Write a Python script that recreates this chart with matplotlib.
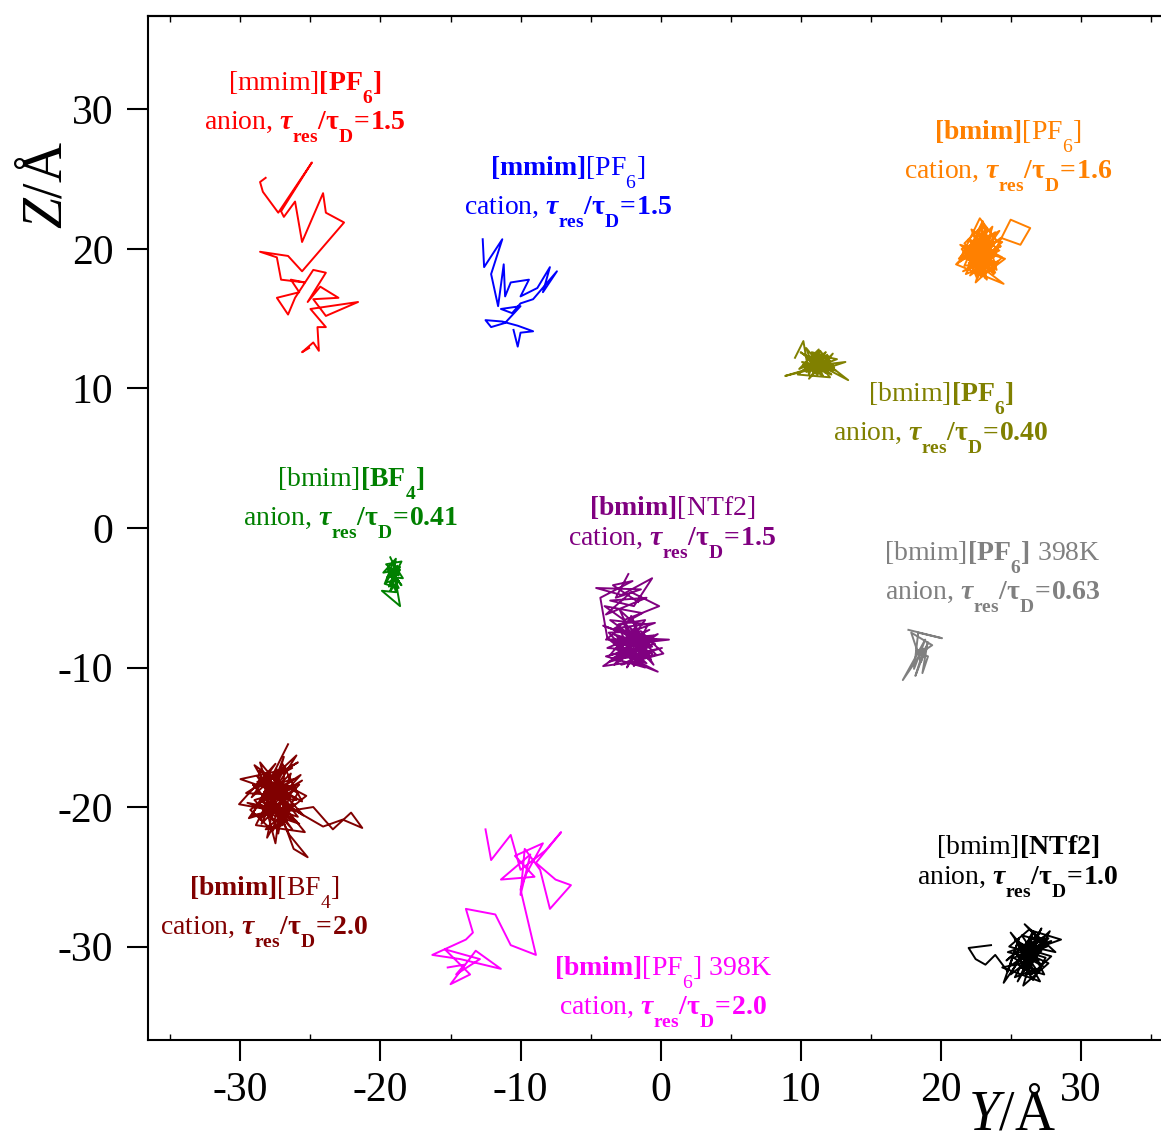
import numpy as np
import matplotlib
matplotlib.use("Agg")
import matplotlib.pyplot as plt

plt.rcParams['font.family'] = ['Liberation Serif', 'DejaVu Serif']
plt.rcParams['mathtext.fontset'] = 'custom'
plt.rcParams['mathtext.rm'] = 'Liberation Serif'
plt.rcParams['mathtext.it'] = 'Liberation Serif:italic'
plt.rcParams['mathtext.bf'] = 'Liberation Serif:bold'
plt.rcParams['mathtext.bfit'] = 'Liberation Serif:italic:bold'
plt.rcParams['axes.unicode_minus'] = False

# subscripts sit lower in the original figure
try:
    from matplotlib import _mathtext
    _mathtext.FontConstantsBase.sub1 = 1.0
    _mathtext.FontConstantsBase.sub2 = 1.1
except Exception:
    pass

# trajectories, (Y, Z) in Angstrom
red_path = [(-28.2, 25.1), (-28.6, 24.8), (-28.4, 24.1), (-27.3, 22.6), (-24.9, 26.2), (-27.1, 22.7),
            (-26.9, 22.3), (-26.1, 23.4), (-25.6, 20.5), (-24.1, 24.0), (-23.9, 22.6), (-22.6, 21.9),
            (-25.6, 18.4), (-26.6, 19.5), (-28.6, 19.8), (-27.4, 19.4), (-27.1, 17.8), (-25.4, 17.6),
            (-26.4, 17.8), (-25.8, 16.9), (-27.4, 16.5), (-26.6, 15.3), (-26.1, 16.5), (-24.8, 18.5),
            (-23.9, 18.3), (-25.2, 16.2), (-24.3, 17.3), (-23.0, 16.5), (-24.8, 16.4), (-23.9, 15.2),
            (-21.6, 16.2), (-25.0, 15.7), (-23.9, 14.4), (-24.5, 14.4), (-24.4, 12.7), (-24.8, 13.3),
            (-25.6, 12.6), (-25.1, 12.9)]

blue_path = [(-12.7, 20.7), (-12.6, 18.7), (-11.3, 20.7), (-12.1, 18.2), (-11.6, 15.9), (-11.2, 18.9),
             (-11.1, 16.6), (-10.7, 17.6), (-9.4, 17.8), (-10.0, 16.6), (-8.8, 17.2), (-7.9, 18.7),
             (-8.4, 16.9), (-7.4, 18.4), (-9.1, 16.4), (-10.0, 16.1), (-10.6, 15.4), (-11.4, 15.7),
             (-10.0, 15.9), (-11.1, 14.7), (-12.1, 14.4), (-12.5, 14.9), (-11.3, 14.8), (-10.2, 14.5),
             (-9.1, 14.1), (-10.0, 14.0), (-10.2, 13.0), (-10.5, 14.2)]

orange_path = [(22.4, 21.0), (23.6, 19.2), (22.1, 18.1), (24.0, 20.6), (22.8, 22.2), (21.5, 19.5),
               (23.9, 18.3), (22.6, 20.9), (23.3, 17.8), (21.9, 19.9), (24.2, 21.3), (22.3, 18.6),
               (23.0, 20.2), (21.2, 19.0), (23.7, 21.6), (22.5, 17.6), (24.4, 19.4), (22.0, 20.7),
               (23.4, 18.9), (25.0, 22.1), (26.4, 21.5), (25.7, 20.3), (24.3, 20.8), (22.9, 19.7),
               (23.8, 18.2), (21.7, 20.4), (23.1, 21.8), (22.4, 19.1), (24.5, 17.5), (21.1, 18.9),
               (23.5, 20.5), (22.7, 18.4), (23.9, 21.2), (21.8, 19.8), (22.6, 17.9), (24.1, 20.0),
               (22.2, 21.4), (23.2, 18.8), (21.4, 20.3), (24.6, 19.3), (22.9, 18.0), (23.5, 21.0),
               (21.9, 19.6), (23.0, 22.0), (24.0, 18.5), (22.3, 20.1), (23.6, 19.4), (22.1, 18.7),
               (23.3, 20.6), (22.7, 19.5), (24.2, 19.9), (21.6, 18.4), (23.1, 19.0), (22.5, 20.4),
               (23.8, 19.7), (21.3, 19.3), (22.8, 21.1), (23.4, 18.6), (22.0, 19.0), (24.3, 20.2),
               (22.6, 19.3), (23.2, 20.8), (21.8, 18.2), (23.7, 19.0), (22.4, 20.0), (23.0, 18.9),
               (22.2, 19.8), (23.5, 19.6), (22.8, 18.5), (23.1, 20.3), (22.9, 21.5), (21.7, 18.8),
               (24.1, 19.1), (22.5, 18.3), (23.6, 20.9), (21.5, 20.0), (23.2, 17.9), (22.1, 20.6),
               (24.4, 20.5), (22.7, 19.0), (23.9, 19.5), (21.9, 18.5), (23.0, 21.3), (22.4, 18.8),
               (24.0, 18.9), (22.2, 20.3), (23.4, 19.8), (21.8, 19.3), (23.7, 20.3), (22.6, 18.1),
               (23.3, 21.5), (22.0, 19.4), (23.8, 18.8), (22.9, 20.6), (22.3, 19.6), (23.6, 18.4),
               (22.8, 20.0), (23.1, 19.3)]

olive_path = [(9.6, 12.2), (10.2, 13.4), (10.6, 11.0), (11.3, 12.8), (9.9, 11.4), (12.0, 12.3),
              (10.8, 12.6), (11.6, 10.9), (10.1, 11.9), (12.4, 11.5), (11.0, 11.2), (10.4, 12.9),
              (12.1, 10.8), (9.8, 11.0), (11.8, 12.6), (10.7, 11.6), (13.2, 11.9), (11.4, 11.3),
              (10.3, 12.4), (11.9, 11.8), (8.9, 10.9), (10.5, 11.3), (12.6, 12.1), (11.1, 12.4),
              (13.4, 10.6), (11.5, 11.6), (10.0, 12.6), (12.2, 11.0), (10.9, 11.9), (11.7, 12.2),
              (10.6, 10.7), (12.3, 12.5), (11.2, 11.0), (10.2, 11.7), (12.0, 11.9), (11.4, 12.7),
              (10.8, 11.4), (12.5, 11.3), (11.0, 12.1), (11.6, 11.5), (11.1, 11.6), (10.4, 11.2),
              (12.1, 12.0), (10.9, 12.5), (11.8, 11.1), (10.5, 12.1), (11.3, 11.8), (12.3, 11.7),
              (10.7, 12.3), (11.5, 11.2), (10.3, 11.5), (11.9, 12.4)]

green_path = [(-19.3, -2.1), (-18.7, -3.4), (-19.6, -2.6), (-18.5, -2.4), (-19.2, -3.8), (-18.9, -2.2),
              (-19.8, -3.2), (-18.6, -3.0), (-19.4, -4.2), (-18.8, -2.7), (-19.5, -3.5), (-18.4, -3.6),
              (-19.1, -2.5), (-19.7, -4.0), (-18.7, -4.3), (-19.3, -3.1), (-18.9, -4.6), (-19.9, -4.5),
              (-18.6, -5.6), (-18.9, -3.9), (-19.4, -2.8), (-18.5, -4.1), (-19.2, -3.3), (-18.8, -3.7),
              (-19.6, -3.9), (-19.0, -2.9), (-19.1, -3.6), (-18.6, -2.8), (-19.5, -3.0), (-18.9, -3.2),
              (-19.3, -4.5), (-18.7, -3.8)]

purple_path = [(-2.3, -3.3), (-3.2, -5.0), (-1.4, -4.4), (-4.6, -4.3), (-2.8, -4.8), (-0.6, -3.6),
               (-1.9, -5.6), (-3.6, -5.2), (-1.0, -5.0), (-3.9, -6.2), (-2.1, -4.6), (-0.1, -5.6),
               (-2.6, -6.6), (-4.0, -5.6), (-1.3, -6.1), (-3.3, -7.2), (-0.4, -6.8), (-2.5, -7.6),
               (-4.1, -7.0), (-1.6, -7.9), (0.6, -8.0), (-2.9, -8.4), (-0.8, -7.3), (-3.8, -8.6),
               (-1.2, -8.8), (-2.2, -7.1), (-0.3, -9.1), (-3.5, -9.4), (-1.8, -8.3), (-4.1, -9.9),
               (-2.0, -9.6), (-0.2, -10.3), (-2.7, -9.0), (-1.0, -9.7), (-3.1, -7.8), (-0.6, -8.5),
               (-2.4, -8.9), (-3.7, -7.5), (-1.4, -7.4), (0.2, -9.0), (-2.8, -9.8), (-1.6, -9.2),
               (-3.4, -8.1), (-0.9, -8.1), (-2.3, -8.2), (-1.1, -6.6), (-3.0, -6.9), (-1.9, -9.9),
               (-0.5, -7.7), (-2.6, -7.9), (-3.6, -9.1), (-1.3, -8.5), (-2.1, -6.3), (-0.7, -9.4),
               (-3.2, -8.7), (-1.7, -7.0), (-2.9, -5.9), (-1.5, -9.0), (-2.4, -7.4), (-0.4, -8.3),
               (-3.9, -9.2), (-1.1, -10.0), (-2.5, -8.6), (-0.2, -7.6), (-3.3, -9.8), (-1.8, -7.7),
               (-0.5, -9.8), (-2.9, -7.2), (-3.9, -8.0), (-1.2, -7.9), (-2.2, -9.3), (0.1, -8.6),
               (-3.0, -9.3), (-1.7, -8.0), (-3.6, -6.6), (-0.9, -6.9), (-2.4, -10.0), (-1.4, -8.2),
               (-3.4, -7.6), (-0.6, -9.0), (-2.7, -8.1), (-1.9, -9.1), (-3.7, -9.6), (-0.3, -8.0),
               (-2.0, -7.5), (-3.1, -9.0), (-1.0, -9.2), (-2.6, -6.9), (-1.5, -9.7), (-3.8, -7.9),
               (-4.3, -5.0), (-2.0, -3.8), (-3.4, -4.1), (-1.6, -5.3)]

gray_path = [(17.7, -7.3), (20.1, -7.9), (18.4, -7.5), (18.1, -10.1), (18.9, -8.0), (17.3, -10.9),
             (18.8, -8.7), (18.2, -10.6), (19.1, -8.2), (18.6, -9.6), (17.9, -7.5), (19.4, -8.4),
             (18.5, -9.0), (19.1, -9.2), (18.7, -10.4), (19.0, -8.6), (18.3, -8.8)]

darkred_path = [(-26.6, -15.5), (-27.8, -17.9), (-25.9, -16.8), (-28.9, -18.6), (-26.3, -17.2), (-30.0, -18.0),
                (-27.1, -19.0), (-25.6, -18.1), (-28.4, -20.1), (-26.0, -16.3), (-29.2, -19.3), (-27.5, -16.9),
                (-30.1, -19.8), (-26.8, -20.4), (-25.3, -19.2), (-28.7, -17.4), (-27.0, -21.3), (-28.2, -21.6),
                (-26.1, -19.8), (-29.4, -20.8), (-27.6, -18.3), (-25.5, -20.6), (-28.0, -19.0), (-26.5, -22.0),
                (-25.2, -23.6), (-26.2, -23.0), (-27.3, -20.0), (-29.0, -17.0), (-26.7, -18.7), (-28.5, -19.6),
                (-25.8, -21.2), (-27.9, -20.5), (-24.8, -20.0), (-23.4, -21.6), (-22.1, -20.4), (-21.3, -21.5),
                (-22.7, -20.9), (-24.1, -21.4), (-26.0, -20.3), (-28.8, -18.2), (-27.2, -17.5), (-29.6, -19.0),
                (-26.4, -19.2), (-28.1, -22.2), (-27.4, -18.8), (-25.7, -17.7), (-28.6, -20.9), (-26.9, -16.4),
                (-27.8, -19.5), (-26.3, -21.6), (-29.1, -18.4), (-27.0, -20.8), (-25.9, -19.0), (-28.3, -17.6),
                (-26.6, -20.1), (-27.7, -21.7), (-29.3, -20.2), (-26.2, -18.0), (-28.0, -18.5), (-27.1, -19.7),
                (-25.4, -21.8), (-28.9, -21.3), (-26.8, -17.1), (-27.5, -22.6), (-28.4, -19.2), (-26.0, -19.5),
                (-27.9, -18.1), (-25.9, -20.7), (-28.7, -19.8), (-26.4, -17.6), (-27.6, -21.0), (-29.0, -19.5),
                (-26.1, -18.6), (-28.2, -20.6), (-27.0, -16.9), (-25.6, -19.6), (-28.8, -17.8), (-26.7, -21.1),
                (-27.4, -17.3), (-29.2, -20.6), (-26.3, -20.0), (-27.8, -18.7), (-25.8, -18.4), (-28.5, -21.2),
                (-27.1, -18.2), (-26.5, -19.4), (-28.3, -18.9), (-27.0, -20.2), (-29.5, -19.7), (-26.0, -21.0),
                (-27.7, -19.9), (-28.6, -16.8), (-26.8, -19.0), (-27.3, -21.9), (-28.0, -20.0), (-26.6, -18.3)]

magenta_path = [(-12.5, -21.6), (-12.1, -23.8), (-10.7, -22.0), (-10.0, -24.5), (-8.2, -23.1), (-7.1, -21.8),
                (-8.9, -24.0), (-7.5, -25.2), (-6.4, -25.6), (-7.9, -27.3), (-8.6, -24.5), (-9.7, -23.0),
                (-10.0, -26.3), (-9.3, -23.4), (-11.4, -25.2), (-9.0, -25.0), (-10.4, -23.5), (-8.4, -22.6),
                (-9.6, -24.8), (-10.0, -25.9), (-8.9, -30.6), (-10.7, -29.9), (-11.8, -27.7), (-13.9, -27.3),
                (-13.4, -29.0), (-13.9, -29.5), (-16.3, -30.6), (-14.3, -30.9), (-11.4, -31.6), (-13.2, -30.3),
                (-15.0, -32.7), (-13.6, -32.0), (-15.4, -30.2), (-12.9, -30.9), (-14.6, -32.0), (-14.0, -31.3),
                (-15.2, -31.5)]

black_path = [(23.6, -29.9), (22.0, -30.1), (22.5, -30.9), (23.2, -31.3), (23.9, -30.6), (24.8, -31.8),
              (25.6, -29.4), (24.5, -32.6), (26.1, -30.3), (25.0, -29.0), (26.8, -31.6), (25.3, -32.2),
              (27.2, -28.7), (26.0, -31.1), (27.9, -29.6), (25.4, -30.5), (26.6, -32.4), (27.5, -30.8),
              (24.9, -30.0), (26.3, -28.8), (28.6, -29.5), (26.9, -30.1), (25.7, -31.5), (27.4, -32.0),
              (26.2, -29.7), (24.7, -31.0), (27.0, -29.1), (25.9, -32.8), (27.7, -31.2), (26.4, -30.6),
              (25.1, -31.3), (27.3, -29.8), (26.0, -28.4), (28.2, -30.4), (25.5, -29.8), (26.7, -31.0),
              (24.4, -31.5), (27.1, -32.5), (25.8, -30.2), (26.5, -29.3), (27.6, -30.0), (25.2, -30.8),
              (26.9, -31.8), (26.1, -32.0), (27.8, -28.9), (25.6, -31.0), (26.3, -30.0), (26.8, -30.4),
              (25.3, -29.5), (27.3, -31.4), (26.0, -30.7), (24.8, -30.4), (27.7, -29.4), (25.9, -31.8),
              (26.6, -28.9), (25.0, -32.0), (27.2, -30.3), (26.2, -31.4), (25.6, -30.0), (27.9, -30.7),
              (26.5, -32.0), (25.4, -31.2), (26.9, -29.5), (25.8, -29.2), (27.0, -31.0), (26.3, -30.8),
              (25.5, -32.5), (27.4, -29.3), (26.1, -29.9)]

# label texts and where they sit (Y, Z)
labels = [
    (red_path, 'red', (-25.4, 30.2),
     r"[mmim]$\mathbf{[PF_{6}]}$" + "\n" + r"anion, $\mathbfit{\tau}_{\mathbf{res}}\mathbf{/τ_{D}\!=\!1.5}$"),
    (blue_path, 'blue', (-6.6, 24.1),
     r"$\mathbf{[mmim]}$[PF$_{6}$]" + "\n" + r"cation, $\mathbfit{\tau}_{\mathbf{res}}\mathbf{/τ_{D}\!=\!1.5}$"),
    (orange_path, '#ff8000', (24.8, 26.7),
     r"$\mathbf{[bmim]}$[PF$_{6}$]" + "\n" + r"cation, $\mathbfit{\tau}_{\mathbf{res}}\mathbf{/τ_{D}\!=\!1.6}$"),
    (olive_path, '#808000', (20.0, 7.95),
     r"[bmim]$\mathbf{[PF_{6}]}$" + "\n" + r"anion, $\mathbfit{\tau}_{\mathbf{res}}\mathbf{/τ_{D}\!=\!0.40}$"),
    (green_path, 'green', (-22.1, 1.86),
     r"[bmim]$\mathbf{[BF_{4}]}$" + "\n" + r"anion, $\mathbfit{\tau}_{\mathbf{res}}\mathbf{/τ_{D}\!=\!0.41}$"),
    (purple_path, 'purple', (0.8, 0.07),
     r"$\mathbf{[bmim]}$[NTf2]" + "\n" + r"cation, $\mathbfit{\tau}_{\mathbf{res}}\mathbf{/τ_{D}\!=\!1.5}$"),
    (gray_path, 'gray', (23.7, -3.5),
     r"[bmim]$\mathbf{[PF_{6}]}$ 398K" + "\n" + r"anion, $\mathbfit{\tau}_{\mathbf{res}}\mathbf{/τ_{D}\!=\!0.63}$"),
    (black_path, 'black', (25.5, -24.2),
     r"[bmim]$\mathbf{[NTf2]}$" + "\n" + r"anion, $\mathbfit{\tau}_{\mathbf{res}}\mathbf{/τ_{D}\!=\!1.0}$"),
    (darkred_path, '#800000', (-28.3, -27.5),
     r"$\mathbf{[bmim]}$[BF$_{4}$]" + "\n" + r"cation, $\mathbfit{\tau}_{\mathbf{res}}\mathbf{/τ_{D}\!=\!2.0}$"),
    (magenta_path, 'magenta', (0.2, -33.2),
     r"$\mathbf{[bmim]}$[PF$_{6}$] 398K" + "\n" + r"cation, $\mathbfit{\tau}_{\mathbf{res}}\mathbf{/τ_{D}\!=\!2.0}$"),
]

major_ticks = [-30, -20, -10, 0, 10, 20, 30]
minor_ticks = [-35, -25, -15, -5, 5, 15, 25, 35]

fig = plt.figure(figsize=(11.61, 11.42), dpi=100)
ax = fig.add_axes([0.1275, 0.0893, 0.8829, 0.8967])

for path, col, pos, txt in labels:
    p = np.array(path)
    ax.plot(p[:, 0], p[:, 1], color=col, lw=1.4)
    ax.text(pos[0], pos[1], txt, color=col, fontsize=20, ha='center', va='center',
            multialignment='center', linespacing=1.2)

ax.set_xlim(-36.6, 36.6)
ax.set_ylim(-36.7, 36.7)
ax.set_xticks(major_ticks)
ax.set_yticks(major_ticks)
ax.set_xticks(minor_ticks, minor=True)
ax.tick_params(which='major', direction='out', length=15, width=1.5, labelsize=30, pad=8)
ax.tick_params(axis='y', which='major', pad=10)
ax.tick_params(which='minor', direction='in', length=4, width=1)
for s in ['left', 'bottom', 'top']:
    ax.spines[s].set_linewidth(1.5)
ax.spines['right'].set_visible(False)

sec = ax.secondary_xaxis('top')
sec.set_xticks(major_ticks + minor_ticks)
sec.tick_params(direction='in', length=4, width=1, labeltop=False)
sec.spines['top'].set_linewidth(1.5)

fig.text(47 / 1161, 1 - 185 / 1142, r"$\mathit{Z}$/Å", rotation=90, fontsize=40, ha='center', va='center')
fig.text(1012 / 1161, 1 - 1116 / 1142, r"$\mathit{Y}$/Å", fontsize=40, ha='center', va='center')

fig.savefig('out.png', dpi=100)
